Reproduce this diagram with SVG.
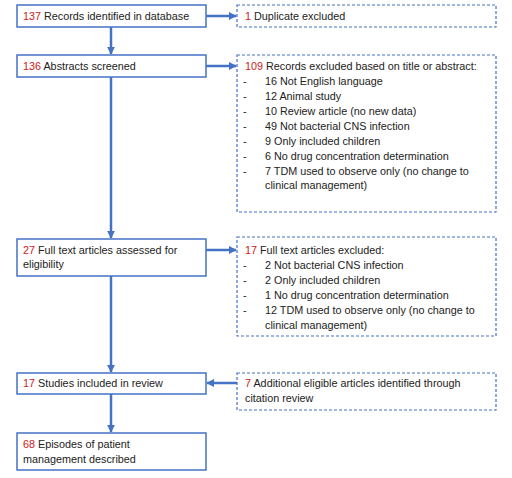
<svg xmlns="http://www.w3.org/2000/svg" width="512" height="478" viewBox="0 0 512 478">
<style>
.box{fill:#fff;stroke:#4472C4;stroke-width:1.5}
.dbox{fill:#fff;stroke:#4472C4;stroke-width:1.2;stroke-dasharray:3 2}
.t{font-family:"Liberation Sans",Arial,sans-serif;font-size:10.8px;fill:#222}
.n{fill:#D02020}
.c{stroke:#4472C4;stroke-width:2.5;fill:none}
</style>
<defs>
<marker id="ah" viewBox="0 0 10 10" refX="9" refY="5" markerWidth="3.2" markerHeight="3.2" orient="auto" markerUnits="strokeWidth">
<path d="M0,0 L10,5 L0,10 z" fill="#4472C4"/>
</marker>
</defs>
<rect width="512" height="478" fill="#fff"/>
<g id="connectors">
<line class="c" x1="111" y1="27" x2="111" y2="54" marker-end="url(#ah)"/>
<line class="c" x1="111" y1="77" x2="111" y2="238" marker-end="url(#ah)"/>
<line class="c" x1="111" y1="276" x2="111" y2="372" marker-end="url(#ah)"/>
<line class="c" x1="111" y1="394" x2="111" y2="432" marker-end="url(#ah)"/>
<line class="c" x1="206" y1="16" x2="236" y2="16" marker-end="url(#ah)"/>
<line class="c" x1="206" y1="66" x2="236" y2="66" marker-end="url(#ah)"/>
<line class="c" x1="206" y1="250" x2="236" y2="250" marker-end="url(#ah)"/>
<line class="c" x1="237" y1="383" x2="207" y2="383" marker-end="url(#ah)"/>
</g>
<g id="n1">
<rect class="box" x="17" y="5" width="189" height="22"/>
<text class="t" x="23" y="20"><tspan class="n">137</tspan> Records identified in database</text>
</g>
<g id="n2">
<rect class="box" x="17" y="55" width="189" height="22"/>
<text class="t" x="23" y="70"><tspan class="n">136</tspan> Abstracts screened</text>
</g>
<g id="n3">
<rect class="box" x="17" y="239" width="189" height="37"/>
<text class="t" x="23" y="254"><tspan class="n">27</tspan> Full text articles assessed for</text>
<text class="t" x="23" y="268">eligibility</text>
</g>
<g id="n4">
<rect class="box" x="17" y="373" width="189" height="21"/>
<text class="t" x="23" y="387"><tspan class="n">17</tspan> Studies included in review</text>
</g>
<g id="n5">
<rect class="box" x="17" y="433" width="189" height="37"/>
<text class="t" x="23" y="448"><tspan class="n">68</tspan> Episodes of patient</text>
<text class="t" x="23" y="463">management described</text>
</g>
<g id="r1">
<rect class="dbox" x="237" y="5" width="259" height="22"/>
<text class="t" x="245" y="20"><tspan class="n">1</tspan> Duplicate excluded</text>
</g>
<g id="r2">
<rect class="dbox" x="237" y="55" width="259" height="157"/>
<text class="t" x="245" y="70"><tspan class="n">109</tspan> Records excluded based on title or abstract:</text>
<text class="t" x="243" y="85">-</text><text class="t" x="265" y="85">16 Not English language</text>
<text class="t" x="243" y="100">-</text><text class="t" x="265" y="100">12 Animal study</text>
<text class="t" x="243" y="115">-</text><text class="t" x="265" y="115">10 Review article (no new data)</text>
<text class="t" x="243" y="130">-</text><text class="t" x="265" y="130">49 Not bacterial CNS infection</text>
<text class="t" x="243" y="145">-</text><text class="t" x="265" y="145">9 Only included children</text>
<text class="t" x="243" y="160">-</text><text class="t" x="265" y="160">6 No drug concentration determination</text>
<text class="t" x="243" y="175">-</text><text class="t" x="265" y="175">7 TDM used to observe only (no change to</text>
<text class="t" x="265" y="189">clinical management)</text>
</g>
<g id="r3">
<rect class="dbox" x="237" y="237" width="259" height="99"/>
<text class="t" x="245" y="254"><tspan class="n">17</tspan> Full text articles excluded:</text>
<text class="t" x="243" y="269">-</text><text class="t" x="265" y="269">2 Not bacterial CNS infection</text>
<text class="t" x="243" y="284">-</text><text class="t" x="265" y="284">2 Only included children</text>
<text class="t" x="243" y="299">-</text><text class="t" x="265" y="299">1 No drug concentration determination</text>
<text class="t" x="243" y="314">-</text><text class="t" x="265" y="314">12 TDM used to observe only (no change to</text>
<text class="t" x="265" y="329">clinical management)</text>
</g>
<g id="r4">
<rect class="dbox" x="237" y="373" width="259" height="37"/>
<text class="t" x="245" y="387"><tspan class="n">7</tspan> Additional eligible articles identified through</text>
<text class="t" x="245" y="402">citation review</text>
</g>
</svg>
